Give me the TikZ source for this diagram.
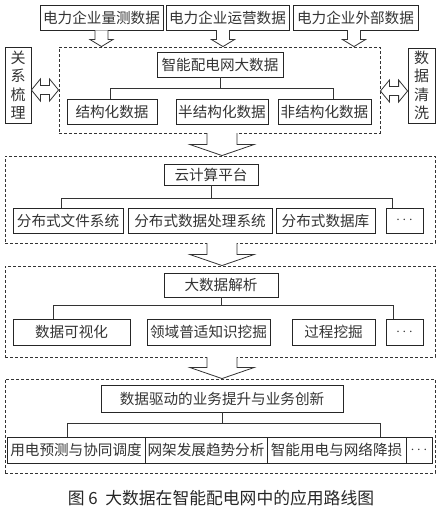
\documentclass[tikz,border=0pt]{standalone}
\usepackage{fontspec}
\usetikzlibrary{calc}
\newfontfamily\cjkfont{Noto Sans CJK SC}
\newcommand{\bx}[6]{\node[box, minimum width={(#4-#2)*1pt}, minimum height={(#5-#3)*1pt}] (#1) at ({(#2+#4)/2},{(#3+#5)/2}) {#6};}
\newcommand{\dbx}[5]{\node[dbox, minimum width={(#4-#2)*1pt}, minimum height={(#5-#3)*1pt}] (#1) at ({(#2+#4)/2},{(#3+#5)/2}) {};}
% hollow down arrow: from, to, shaft half width, head half width, head length
\newcommand{\vblock}[5]{\draw[harrow] ($(#1)+(-#3,0)$) -- ($(#2)+(-#3,-#5)$) -- ($(#2)+(-#4,-#5)$) -- (#2) -- ($(#2)+(#4,-#5)$) -- ($(#2)+(#3,-#5)$) -- ($(#1)+(#3,0)$);}
% hollow double arrow: left, right, shaft half height, head half height, head length
\newcommand{\hblock}[5]{\draw[harrow] (#1) -- ($(#1)+(#5,-#4)$) -- ($(#1)+(#5,-#3)$) -- ($(#2)+(-#5,-#3)$) -- ($(#2)+(-#5,-#4)$) -- (#2) -- ($(#2)+(-#5,#4)$) -- ($(#2)+(-#5,#3)$) -- ($(#1)+(#5,#3)$) -- ($(#1)+(#5,#4)$) -- cycle;}
\begin{document}
\begin{tikzpicture}[x=1pt,y=-1pt,
  box/.style={draw=black!85, line width=0.8pt, inner sep=0pt, text=black!80, font=\cjkfont\fontsize{14.6}{18}\selectfont, align=center},
  vtext/.style={text width=16pt, font=\cjkfont\fontsize{15}{18.5}\selectfont},
  dbox/.style={draw=black!80, dash pattern=on 3pt off 2pt, line width=0.9pt, inner sep=0pt},
  harrow/.style={draw=black!80, line width=0.8pt, fill=white},
  conn/.style={draw=black!80, line width=0.8pt},
  captext/.style={font=\cjkfont\fontsize{16.8}{18}\selectfont, text=black!85}]
\useasboundingbox (0,0) rectangle (439,509);
% top sources
\bx{t1}{40}{5}{163}{30}{电力企业量测数据}
\bx{t2}{166}{5}{289}{30}{电力企业运营数据}
\bx{t3}{293}{5}{418}{30}{电力企业外部数据}
% layer 1
\dbx{d1}{59}{47}{380}{133}
\bx{p1}{157}{52}{283}{77}{智能配电网大数据}
\bx{s11}{67}{99}{157}{124}{结构化数据}
\bx{s12}{176}{99}{268}{124}{半结构化数据}
\bx{s13}{278}{99}{371}{124}{非结构化数据}
\node[box, vtext, minimum width=26pt, minimum height=76pt] (rel) at (18,85) {关\\系\\梳\\理};
\node[box, vtext, minimum width=27pt, minimum height=75pt] (cln) at (421.5,85.5) {数\\据\\清\\洗};
% layer 2
\dbx{d2}{5}{156}{435}{243}
\bx{p2}{164}{164}{258}{185}{云计算平台}
\bx{s21}{13}{208}{123}{233}{分布式文件系统}
\bx{s22}{128}{208}{272}{233}{分布式数据处理系统}
\bx{s23}{276}{208}{375}{233}{分布式数据库}
\bx{s24}{386}{208}{423}{233}{$\cdots$}
% layer 3
\dbx{d3}{5}{266}{435}{357}
\bx{p3}{164}{273}{278}{297}{大数据解析}
\bx{s31}{13}{319}{130}{345}{数据可视化}
\bx{s32}{147}{319}{270}{345}{领域普适知识挖掘}
\bx{s33}{292}{319}{375}{345}{过程挖掘}
\bx{s34}{386}{319}{423}{345}{$\cdots$}
% layer 4
\dbx{d4}{5}{379}{435}{473}
\bx{p4}{101}{385}{343}{412}{数据驱动的业务提升与业务创新}
\bx{s41}{7}{437}{145}{463}{用电预测与协同调度}
\bx{s42}{145}{437}{267}{463}{网架发展趋势分析}
\bx{s43}{267}{437}{406}{463}{智能用电与网络降损}
\bx{s44}{406}{437}{432}{463}{$\cdots$}
% caption
\node[captext] (caption) at (221,498) {图 6\ \ 大数据在智能配电网中的应用路线图};
% top arrows
\coordinate (a1s) at (t1.south); \coordinate (a1e) at (t1.south |- d1.north);
\coordinate (a2s) at (223,30);   \coordinate (a2e) at (a2s |- d1.north);
\coordinate (a3s) at (354,30);   \coordinate (a3e) at (a3s |- d1.north);
\vblock{a1s}{a1e}{6.5}{11.5}{7}
\vblock{a2s}{a2e}{6.5}{11.5}{7}
\vblock{a3s}{a3e}{6.5}{11.5}{7}
% layer arrows
\coordinate (b1s) at (222,133); \coordinate (b1e) at (b1s |- d2.north);
\coordinate (b2s) at (222,243); \coordinate (b2e) at (b2s |- d3.north);
\coordinate (b3s) at (222,357); \coordinate (b3e) at (b3s |- d4.north);
\vblock{b1s}{b1e}{15}{32}{11}
\vblock{b2s}{b2e}{15}{32}{11}
\vblock{b3s}{b3e}{15}{32}{11}
% side double arrows
\coordinate (l1) at (rel.east |- 0,90); \coordinate (l2) at (d1.west |- 0,90);
\coordinate (r1) at (d1.east |- 0,91); \coordinate (r2) at (cln.west |- 0,91);
\hblock{l1}{l2}{4.5}{11}{9}
\hblock{r1}{r2}{4.5}{11}{9}
% braces
\coordinate (c1L) at (110,99); \coordinate (c1R) at (333,99);
\draw[conn] (p1.south) -- ++(0,11);
\draw[conn] (c1L) -- ++(0,-11) -| (c1R);
\coordinate (c2L) at (61,208); \coordinate (c2R) at (392,208);
\draw[conn] (p2.south) -- ++(0,13);
\draw[conn] (c2L) -- ++(0,-10) -| (c2R);
\coordinate (c3L) at (53,319); \coordinate (c3R) at (393,319);
\draw[conn] (p3.south) -- ++(0,8);
\draw[conn] (c3L) -- ++(0,-14) -| (c3R);
\coordinate (c4L) at (67,437); \coordinate (c4R) at (380,437);
\draw[conn] (p4.south) -- ++(0,11);
\draw[conn] (c4L) -- ++(0,-14) -| (c4R);
\end{tikzpicture}
\end{document}
